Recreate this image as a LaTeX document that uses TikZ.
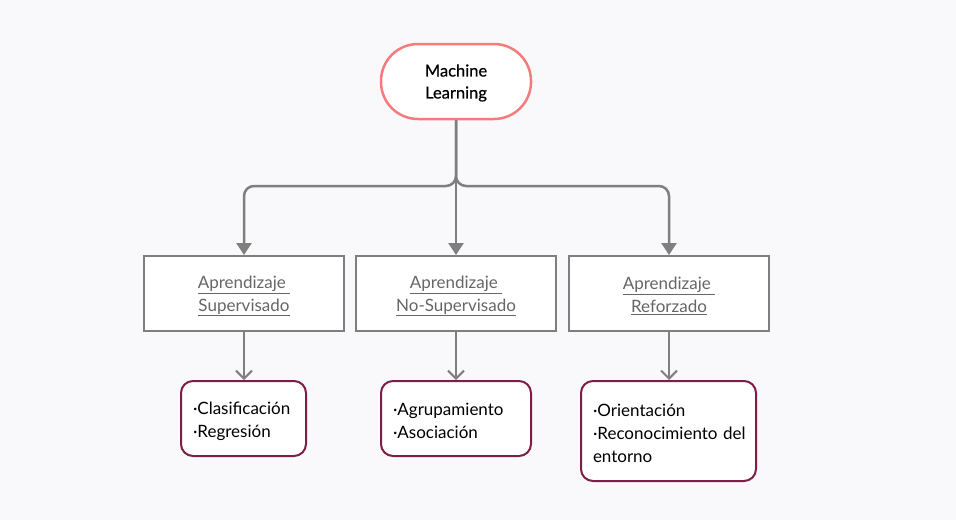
\documentclass[tikz,border=0pt]{standalone}
\usepackage{fontspec}
\setmainfont{Lato}
\newfontfamily\mlfont[FakeBold=0.6]{Lato}
\usetikzlibrary{arrows.meta,positioning}
\definecolor{bgc}{HTML}{F9F9FB}
\definecolor{salmon}{HTML}{F47C7C}
\definecolor{lgray}{HTML}{7F7F7F}
\definecolor{tgray}{HTML}{666666}
\definecolor{maroon}{HTML}{7E1D48}
\newcommand\tup{\rule{0pt}{17.5pt}}
\tikzset{
  x=1pt,y=-1pt,
  mlnode/.style={draw=salmon,line width=2.5pt,fill=white,rounded corners=37pt,minimum width=150pt,minimum height=75pt,align=center,font=\mlfont\fontsize{16.5}{22}\selectfont,inner sep=0pt},
  catbox/.style={draw=lgray,line width=2pt,fill=white,minimum width=200pt,minimum height=75pt,align=center,text=tgray,font=\fontsize{17}{23}\selectfont,inner sep=0pt},
  leafbox/.style={draw=maroon,line width=2pt,fill=white,rounded corners=12pt,align=left,font=\fontsize{17}{23}\selectfont,inner xsep=12pt,inner ysep=0pt},
  topconn/.style={draw=lgray,line width=2.5pt,rounded corners=10pt,-{Triangle[width=15pt,length=12pt]}},
  lowconn/.style={draw=lgray,line width=2pt,-{Straight Barb[width=16pt,length=8pt,line width=2pt]}},
}
\begin{document}
\begin{tikzpicture}
\fill[bgc] (0,0) rectangle (956,520);
\useasboundingbox (0,0) rectangle (956,520);
\node[mlnode] (ml) at (456,81.5) {\rule{0pt}{15pt}Machine\\Learning};
\node[catbox] (sup) at (244,293.5) {\tup\underline{Aprendizaje\ }\\\underline{Supervisado}};
\node[catbox] (nosup) at (456,293.5) {\tup\underline{Aprendizaje\ }\\\underline{No-Supervisado}};
\node[catbox] (ref) at (669,293.5) {\tup\underline{Aprendizaje\ }\\\underline{Reforzado}};
\node[leafbox,minimum width=125pt,minimum height=75pt,text width=101pt] (l1) at (243.5,418.5) {\tup·Clasificación\\·Regresión};
\node[leafbox,minimum width=150pt,minimum height=75pt,text width=126pt] (l2) at (456,418.5) {\tup·Agrupamiento\\·Asociación};
\node[leafbox,minimum width=175pt,minimum height=100pt,text width=151pt] (l3) at (668.5,431) {\tup·Orientación\\\mbox{·Reconocimiento del}\\entorno};
\coordinate (j) at (456,186);
\draw[topconn] (ml.south) -- (j) -| (sup.north);
\draw[topconn] (ml.south) -- (j) -| (ref.north);
\draw[topconn] (ml.south) -- (nosup.north);
\draw[lowconn] (sup.south) -- (sup.south |- l1.north);
\draw[lowconn] (nosup.south) -- (l2.north);
\draw[lowconn] (ref.south) -- (ref.south |- l3.north);
\end{tikzpicture}
\end{document}
